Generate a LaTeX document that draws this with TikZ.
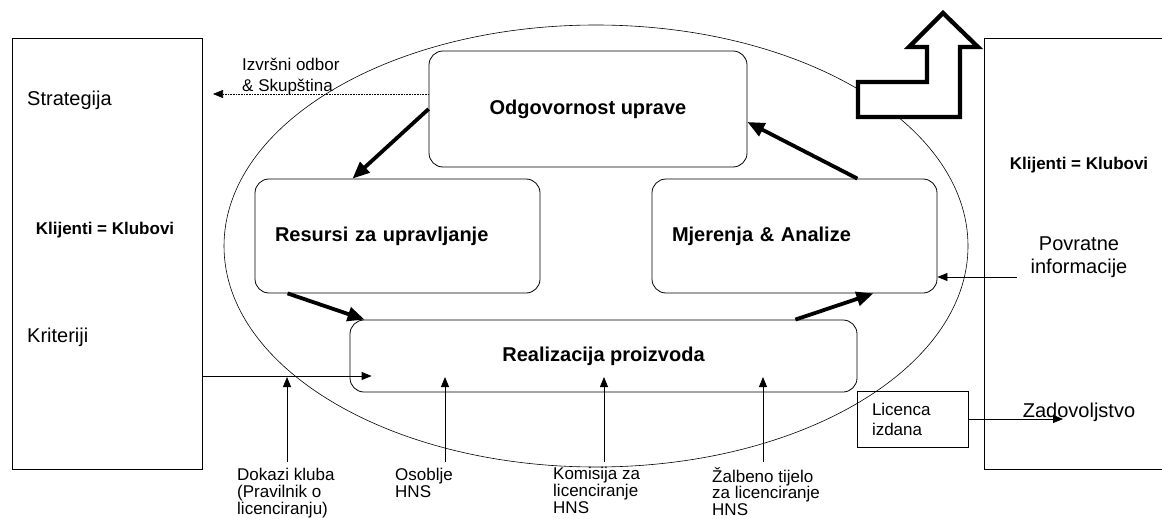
\documentclass[tikz,border=0pt]{standalone}
\usepackage{fontspec}
\setmainfont{Liberation Sans}
\usetikzlibrary{arrows.meta,positioning}

\begin{document}
\begin{tikzpicture}[x=1pt,y=-1pt,>={Triangle[length=10pt,width=8pt]},
  blok/.style={draw,rounded corners=14pt,fill=white,line width=0.8pt,inner sep=0pt,
    font=\fontsize{20}{22}\selectfont\bfseries},
  okvir/.style={draw,line width=0.8pt,inner sep=0pt},
  veliki/.style={inner sep=0pt,font=\fontsize{20}{23}\selectfont},
  mali/.style={inner sep=0pt,align=left,font=\fontsize{17}{16.8}\selectfont},
  klijenti/.style={inner sep=0pt,font=\fontsize{17}{18}\selectfont\bfseries},
  debela/.style={line width=3.8pt,-{Triangle[length=17pt,width=14pt]}},
  tanka/.style={line width=0.8pt,->}]
  \useasboundingbox (0,0) rectangle (1162,519);

  % veliki krug
  \draw[line width=0.6pt] (596,246) ellipse [x radius=372pt,y radius=221pt];

  % strelica gore desno
  \draw[line width=4.3pt,fill=white] (943,13) -- (978,47) -- (960,47) -- (960,117)
    -- (858,117) -- (858,82) -- (927,82) -- (927,47) -- (909,47) -- cycle;

  \node (lijevi) [okvir,minimum width=190pt,minimum height=431pt] at (107,253.5) {};
  \node (desni) [okvir,minimum width=190pt,minimum height=431pt] at (1079,253.5) {};

  \node (odg) [blok,minimum width=318pt,minimum height=116pt] at (588,109) {Odgovornost uprave};
  \node (res) [blok,align=left,text width=245pt,inner xsep=20pt,minimum height=114pt]
    at (397.5,236) {Resursi za upravljanje};
  \node (mje) [blok,align=left,text width=245pt,inner xsep=20pt,minimum height=114pt]
    at (794.5,236) {Mjerenja \& Analize};
  \node (real) [blok,minimum width=507pt,minimum height=72pt] at (603.5,356) {Realizacija proizvoda};

  \node (lic) [okvir,align=left,text width=81pt,inner xsep=15pt,minimum height=56pt,
    font=\fontsize{17}{20}\selectfont] at (912.5,419) {Licenca\\izdana};

  \node (strat) [veliki,anchor=west] at (27,100) {Strategija};
  \node (klL) [klijenti] at (105,230) {Klijenti = Klubovi};
  \node (krit) [veliki,anchor=west] at (27,337) {Kriteriji};
  \node (klR) [klijenti] at (1079,165) {Klijenti = Klubovi};
  \node (povr) [veliki,align=center] at (1079,257) {Povratne\\informacije};
  \node (zad) [veliki] at (1079,412) {Zadovoljstvo};

  \node (izv) [mali,anchor=west,font=\fontsize{17}{21}\selectfont] at (242,77) {Izvršni odbor\\\& Skupština};
  \node (dok) [mali,anchor=north west] at (237,468) {Dokazi kluba\\(Pravilnik o\\licenciranju)};
  \node (oso) [mali,anchor=north west] at (395,468) {Osoblje\\HNS};
  \node (kom) [mali,anchor=north west] at (553,467) {Komisija za\\licenciranje\\HNS};
  \node (zal) [mali,anchor=north west] at (712,467) {Žalbeno tijelo\\za licenciranje\\HNS};

  \coordinate (izvKraj) at (213,94);
  \coordinate (povrPoc) at (1017,277);
  \coordinate (zadKraj) at (1063,419);

  \draw[debela] (odg.west) -- ([xshift=-45pt]res.north);
  \draw[debela] ([xshift=33pt]res.south west) -- ([xshift=15pt]real.north west);
  \draw[debela] ([xshift=-62pt]real.north east) -- ([xshift=-64pt]mje.south east);
  \draw[debela] ([xshift=-80pt]mje.north east) -- ([yshift=-13pt]odg.east);

  \draw[line width=0.6pt,densely dotted,->] ([yshift=15pt]odg.west) -- (izvKraj);
  \draw[tanka] ([yshift=-122.5pt]lijevi.east) -- ([xshift=22pt,yshift=-20pt]real.west);
  \draw[tanka] (povrPoc) -- ([yshift=-41pt]mje.east);
  \draw[tanka] (lic.east) -- (zadKraj);

  \foreach \x [count=\i] in {287,445,604,763} {
    \coordinate (dolje\i) at (\x,462);
    \coordinate (gore\i) at (\x,377);
    \draw[tanka] (dolje\i) -- (gore\i);
  }
\end{tikzpicture}
\end{document}
